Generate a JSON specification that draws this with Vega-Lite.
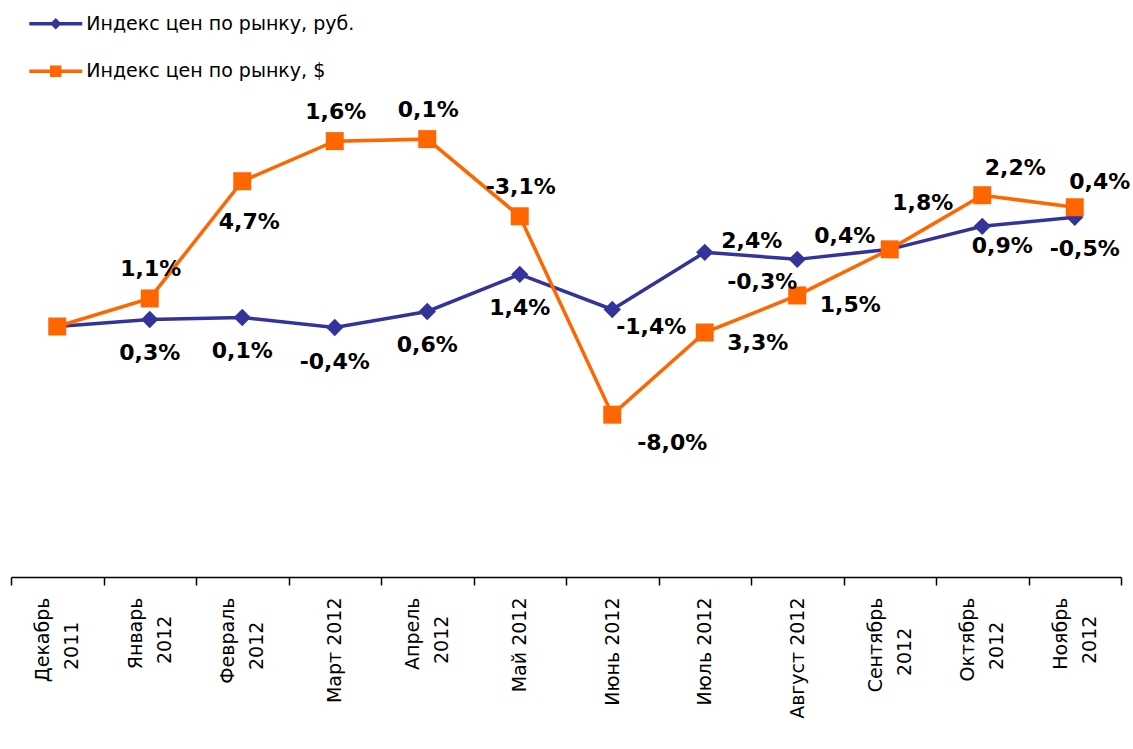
{
  "$schema": "https://vega.github.io/schema/vega-lite/v6.json",
  "width": 1110,
  "height": 501,
  "autosize": {"type": "none"},
  "padding": {"left": 11, "top": 76, "right": 12, "bottom": 172},
  "background": "white",
  "config": {"view": {"stroke": null}, "font": "DejaVu Sans"},
  "data": {"values": [
    {"month": "Декабрь 2011", "series": "Индекс цен по рынку, руб.", "value": 100.0, "label": ""},
    {"month": "Январь 2012", "series": "Индекс цен по рынку, руб.", "value": 100.28, "label": "0,3%"},
    {"month": "Февраль 2012", "series": "Индекс цен по рынку, руб.", "value": 100.36, "label": "0,1%"},
    {"month": "Март 2012", "series": "Индекс цен по рынку, руб.", "value": 99.96, "label": "-0,4%"},
    {"month": "Апрель 2012", "series": "Индекс цен по рынку, руб.", "value": 100.6, "label": "0,6%"},
    {"month": "Май 2012", "series": "Индекс цен по рынку, руб.", "value": 102.08, "label": "1,4%"},
    {"month": "Июнь 2012", "series": "Индекс цен по рынку, руб.", "value": 100.68, "label": "-1,4%"},
    {"month": "Июль 2012", "series": "Индекс цен по рынку, руб.", "value": 102.96, "label": "2,4%"},
    {"month": "Август 2012", "series": "Индекс цен по рынку, руб.", "value": 102.68, "label": "-0,3%"},
    {"month": "Сентябрь 2012", "series": "Индекс цен по рынку, руб.", "value": 103.08, "label": "0,4%"},
    {"month": "Октябрь 2012", "series": "Индекс цен по рынку, руб.", "value": 104.0, "label": "0,9%"},
    {"month": "Ноябрь 2012", "series": "Индекс цен по рынку, руб.", "value": 104.36, "label": "-0,5%"},
    {"month": "Декабрь 2011", "series": "Индекс цен по рынку, $", "value": 100.0, "label": ""},
    {"month": "Январь 2012", "series": "Индекс цен по рынку, $", "value": 101.12, "label": "1,1%"},
    {"month": "Февраль 2012", "series": "Индекс цен по рынку, $", "value": 105.8, "label": "4,7%"},
    {"month": "Март 2012", "series": "Индекс цен по рынку, $", "value": 107.4, "label": "1,6%"},
    {"month": "Апрель 2012", "series": "Индекс цен по рынку, $", "value": 107.48, "label": "0,1%"},
    {"month": "Май 2012", "series": "Индекс цен по рынку, $", "value": 104.4, "label": "-3,1%"},
    {"month": "Июнь 2012", "series": "Индекс цен по рынку, $", "value": 96.48, "label": "-8,0%"},
    {"month": "Июль 2012", "series": "Индекс цен по рынку, $", "value": 99.76, "label": "3,3%"},
    {"month": "Август 2012", "series": "Индекс цен по рынку, $", "value": 101.24, "label": "1,5%"},
    {"month": "Сентябрь 2012", "series": "Индекс цен по рынку, $", "value": 103.08, "label": "1,8%"},
    {"month": "Октябрь 2012", "series": "Индекс цен по рынку, $", "value": 105.24, "label": "2,2%"},
    {"month": "Ноябрь 2012", "series": "Индекс цен по рынку, $", "value": 104.76, "label": "0,4%"}
  ]},
  "encoding": {
    "x": {
      "field": "month", "type": "nominal",
      "sort": ["Декабрь 2011", "Январь 2012", "Февраль 2012", "Март 2012", "Апрель 2012", "Май 2012", "Июнь 2012", "Июль 2012", "Август 2012", "Сентябрь 2012", "Октябрь 2012", "Ноябрь 2012"],
      "scale": {"type": "band", "paddingInner": 0, "paddingOuter": 0},
      "axis": {
        "title": null,
        "labelAngle": -90,
        "labelAlign": "right",
        "labelBaseline": "middle",
        "labelFont": "DejaVu Sans",
        "labelFontSize": 19,
        "labelColor": "black",
        "labelLineHeight": 29,
        "labelPadding": 12,
        "labelLimit": 300,
        "labelOffset": {"condition": {"test": "indexof(['Март 2012','Май 2012','Июнь 2012','Июль 2012','Август 2012'], datum.value) >= 0", "value": 0}, "value": -14.5},
        "labelExpr": "!datum.value ? '' : indexof(['Март 2012','Май 2012','Июнь 2012','Июль 2012','Август 2012'], datum.value) >= 0 ? datum.value : [split(datum.value, ' ')[0], pad(split(datum.value, ' ')[1], 4 + round((length(split(datum.value, ' ')[0]) * 14 - 48) / 12), '\u00a0', 'right') + '\u200b']",
        "tickBand": "extent",
        "tickSize": 8,
        "tickColor": "black",
        "tickWidth": 1.5,
        "domainColor": "black",
        "domainWidth": 1.5,
        "grid": false
      }
    },
    "y": {"field": "value", "type": "quantitative", "scale": {"domain": [90, 110]}, "axis": null}
  },
  "layer": [
    {
      "mark": {"type": "line", "strokeWidth": 3.5},
      "encoding": {
        "color": {
          "field": "series", "type": "nominal",
          "scale": {"domain": ["Индекс цен по рынку, руб.", "Индекс цен по рынку, $"], "range": ["#333399", "#FF6600"]},
          "legend": {
            "orient": "none", "legendX": 29.75, "legendY": -67.25, "title": null, "direction": "vertical",
            "labelFont": "DejaVu Sans", "labelFontSize": 19, "labelColor": "black", "labelLimit": 400,
            "symbolSize": 702, "symbolStrokeWidth": 3.5, "rowPadding": 21.5, "labelOffset": 15.5, "padding": 0,
            "symbolType": "M-2,0H2",
            "encode": {"symbols": {"update": {
              "shape": {"signal": "indexof(datum.value, 'руб') >= 0 ? 'M-2,0H2M0,-0.25L0.25,0L0,0.25L-0.25,0Z' : 'M-2,0H2M-0.3,-0.3H0.3V0.3H-0.3Z'"},
              "fill": {"signal": "indexof(datum.value, 'руб') >= 0 ? '#333399' : '#FF6600'"},
              "stroke": {"signal": "indexof(datum.value, 'руб') >= 0 ? '#333399' : '#FF6600'"},
              "opacity": {"value": 1}
            }}}
          }
        }
      }
    },
    {
      "transform": [{"filter": {"field": "series", "equal": "Индекс цен по рынку, руб."}}],
      "mark": {"type": "point", "shape": "diamond", "size": 300, "filled": true, "opacity": 1, "color": "#333399"}
    },
    {
      "transform": [{"filter": {"field": "series", "equal": "Индекс цен по рынку, $"}}],
      "mark": {"type": "point", "shape": "square", "size": 324, "filled": true, "opacity": 1, "color": "#FF6600"}
    },
    {
      "transform": [{"filter": {"and": [{"field": "series", "equal": "Индекс цен по рынку, руб."}, {"field": "month", "oneOf": ["Январь 2012", "Февраль 2012", "Март 2012", "Апрель 2012", "Май 2012"]}]}}],
      "mark": {"type": "text", "font": "DejaVu Sans", "fontWeight": "bold", "fontSize": 22, "color": "black", "align": "center", "baseline": "middle", "dx": 0, "dy": 34},
      "encoding": {"text": {"field": "label"}}
    },
    {
      "transform": [{"filter": {"and": [{"field": "series", "equal": "Индекс цен по рынку, $"}, {"field": "month", "oneOf": ["Январь 2012", "Март 2012", "Апрель 2012", "Май 2012"]}]}}],
      "mark": {"type": "text", "font": "DejaVu Sans", "fontWeight": "bold", "fontSize": 22, "color": "black", "align": "center", "baseline": "middle", "dx": 1, "dy": -29},
      "encoding": {"text": {"field": "label"}}
    },
    {
      "transform": [{"filter": {"and": [{"field": "series", "equal": "Индекс цен по рынку, $"}, {"field": "month", "oneOf": ["Февраль 2012"]}]}}],
      "mark": {"type": "text", "font": "DejaVu Sans", "fontWeight": "bold", "fontSize": 22, "color": "black", "align": "center", "baseline": "middle", "dx": 7, "dy": 41},
      "encoding": {"text": {"field": "label"}}
    },
    {
      "transform": [{"filter": {"and": [{"field": "series", "equal": "Индекс цен по рынку, руб."}, {"field": "month", "oneOf": ["Июнь 2012"]}]}}],
      "mark": {"type": "text", "font": "DejaVu Sans", "fontWeight": "bold", "fontSize": 22, "color": "black", "align": "center", "baseline": "middle", "dx": 39, "dy": 18},
      "encoding": {"text": {"field": "label"}}
    },
    {
      "transform": [{"filter": {"and": [{"field": "series", "equal": "Индекс цен по рынку, руб."}, {"field": "month", "oneOf": ["Июль 2012"]}]}}],
      "mark": {"type": "text", "font": "DejaVu Sans", "fontWeight": "bold", "fontSize": 22, "color": "black", "align": "center", "baseline": "middle", "dx": 47, "dy": -11},
      "encoding": {"text": {"field": "label"}}
    },
    {
      "transform": [{"filter": {"and": [{"field": "series", "equal": "Индекс цен по рынку, руб."}, {"field": "month", "oneOf": ["Август 2012"]}]}}],
      "mark": {"type": "text", "font": "DejaVu Sans", "fontWeight": "bold", "fontSize": 22, "color": "black", "align": "center", "baseline": "middle", "dx": -35, "dy": 23},
      "encoding": {"text": {"field": "label"}}
    },
    {
      "transform": [{"filter": {"and": [{"field": "series", "equal": "Индекс цен по рынку, руб."}, {"field": "month", "oneOf": ["Сентябрь 2012"]}]}}],
      "mark": {"type": "text", "font": "DejaVu Sans", "fontWeight": "bold", "fontSize": 22, "color": "black", "align": "center", "baseline": "middle", "dx": -45, "dy": -13},
      "encoding": {"text": {"field": "label"}}
    },
    {
      "transform": [{"filter": {"and": [{"field": "series", "equal": "Индекс цен по рынку, руб."}, {"field": "month", "oneOf": ["Октябрь 2012"]}]}}],
      "mark": {"type": "text", "font": "DejaVu Sans", "fontWeight": "bold", "fontSize": 22, "color": "black", "align": "center", "baseline": "middle", "dx": 20, "dy": 20},
      "encoding": {"text": {"field": "label"}}
    },
    {
      "transform": [{"filter": {"and": [{"field": "series", "equal": "Индекс цен по рынку, руб."}, {"field": "month", "oneOf": ["Ноябрь 2012"]}]}}],
      "mark": {"type": "text", "font": "DejaVu Sans", "fontWeight": "bold", "fontSize": 22, "color": "black", "align": "center", "baseline": "middle", "dx": 10, "dy": 32},
      "encoding": {"text": {"field": "label"}}
    },
    {
      "transform": [{"filter": {"and": [{"field": "series", "equal": "Индекс цен по рынку, $"}, {"field": "month", "oneOf": ["Июнь 2012"]}]}}],
      "mark": {"type": "text", "font": "DejaVu Sans", "fontWeight": "bold", "fontSize": 22, "color": "black", "align": "center", "baseline": "middle", "dx": 60, "dy": 28},
      "encoding": {"text": {"field": "label"}}
    },
    {
      "transform": [{"filter": {"and": [{"field": "series", "equal": "Индекс цен по рынку, $"}, {"field": "month", "oneOf": ["Июль 2012", "Август 2012"]}]}}],
      "mark": {"type": "text", "font": "DejaVu Sans", "fontWeight": "bold", "fontSize": 22, "color": "black", "align": "center", "baseline": "middle", "dx": 53, "dy": 10},
      "encoding": {"text": {"field": "label"}}
    },
    {
      "transform": [{"filter": {"and": [{"field": "series", "equal": "Индекс цен по рынку, $"}, {"field": "month", "oneOf": ["Сентябрь 2012"]}]}}],
      "mark": {"type": "text", "font": "DejaVu Sans", "fontWeight": "bold", "fontSize": 22, "color": "black", "align": "center", "baseline": "middle", "dx": 33, "dy": -46},
      "encoding": {"text": {"field": "label"}}
    },
    {
      "transform": [{"filter": {"and": [{"field": "series", "equal": "Индекс цен по рынку, $"}, {"field": "month", "oneOf": ["Октябрь 2012"]}]}}],
      "mark": {"type": "text", "font": "DejaVu Sans", "fontWeight": "bold", "fontSize": 22, "color": "black", "align": "center", "baseline": "middle", "dx": 33, "dy": -27},
      "encoding": {"text": {"field": "label"}}
    },
    {
      "transform": [{"filter": {"and": [{"field": "series", "equal": "Индекс цен по рынку, $"}, {"field": "month", "oneOf": ["Ноябрь 2012"]}]}}],
      "mark": {"type": "text", "font": "DejaVu Sans", "fontWeight": "bold", "fontSize": 22, "color": "black", "align": "center", "baseline": "middle", "dx": 25, "dy": -25},
      "encoding": {"text": {"field": "label"}}
    }
  ]
}
